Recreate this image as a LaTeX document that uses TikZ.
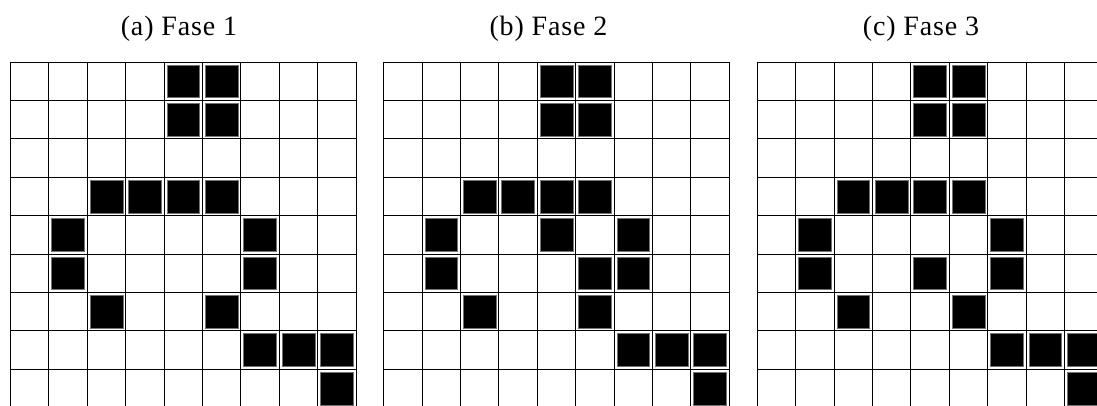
\documentclass[tikz,border=0pt]{standalone}
\usepackage{fontspec}
\setmainfont{Liberation Serif}
\newfontfamily\titlefont[LetterSpace=3]{Liberation Serif}
\begin{document}
\begin{tikzpicture}[x=0.75pt,y=-0.75pt,
  gridline/.style={draw=black,line width=0.75pt},
  cellfill/.style={fill=black,draw=black!55,line width=0.4pt},
  titletext/.style={font=\titlefont\fontsize{21pt}{24pt}\selectfont,anchor=base,inner sep=0pt}]
\useasboundingbox (0,0) rectangle (1097,405);
\clip (0,0) rectangle (1097,405);
\def\cs{38.4}
% titles
\node[titletext] (ta) at (179,35) {(a) Fase 1};
\node[titletext] (tb) at (548.5,35) {(b) Fase 2};
\node[titletext] (tc) at (921,35) {(c) Fase 3};
% grids
\foreach \gx/\cells in {
  10.4/{4/0,5/0,4/1,5/1,2/3,3/3,4/3,5/3,1/4,6/4,1/5,6/5,2/6,5/6,6/7,7/7,8/7,8/8},
  383.7/{4/0,5/0,4/1,5/1,2/3,3/3,4/3,5/3,1/4,4/4,6/4,1/5,5/5,6/5,2/6,5/6,6/7,7/7,8/7,8/8},
  757.3/{4/0,5/0,4/1,5/1,2/3,3/3,4/3,5/3,1/4,6/4,1/5,4/5,6/5,2/6,5/6,6/7,7/7,8/7,8/8}} {
  \foreach \i in {0,...,9} {
    \draw[gridline] ({\gx+\i*\cs},62) -- ({\gx+\i*\cs},{62+9*\cs});
    \draw[gridline] (\gx,{62+\i*\cs}) -- ({\gx+9*\cs},{62+\i*\cs});
  }
  \foreach \c/\r in \cells {
    \path[cellfill] ({\gx+\c*\cs+2.8},{62+\r*\cs+2.8}) rectangle ({\gx+(\c+1)*\cs-2.8},{62+(\r+1)*\cs-2.8});
  }
}
\end{tikzpicture}
\end{document}
